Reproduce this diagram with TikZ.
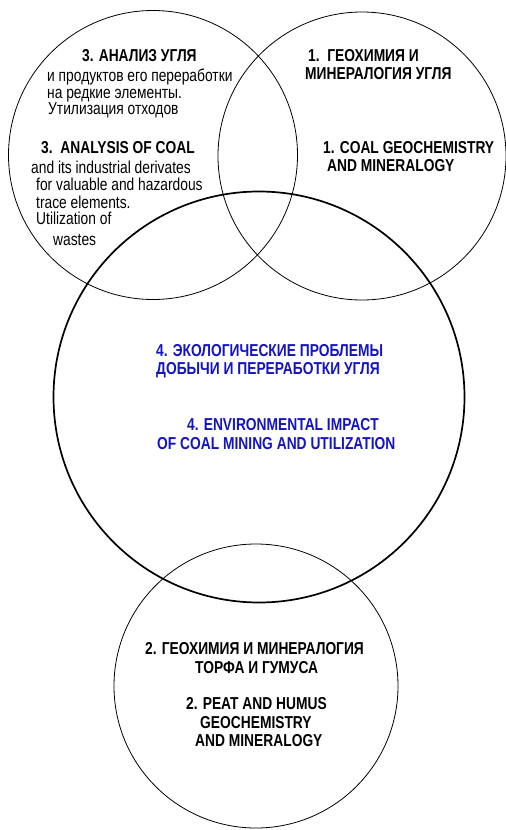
\documentclass[tikz,border=0pt]{standalone}
\usepackage{fontspec}
\usepackage{graphicx}
\setmainfont{Liberation Sans}
\definecolor{txtblue}{RGB}{20,20,195}
\newcommand{\tall}[1]{\scalebox{1}[1.25]{#1}}
\begin{document}
\begin{tikzpicture}[x=1pt,y=-1pt,
  ring/.style={circle,draw=black,line width=0.8pt,inner sep=0pt},
  bigring/.style={circle,draw=black,line width=1.7pt,inner sep=0pt},
  lbl/.style={anchor=west,inner sep=0pt,text height=12.4pt,text depth=0pt,font=\fontsize{13.8}{16}\selectfont\bfseries},
  reg/.style={anchor=west,inner sep=0pt,text height=12.4pt,text depth=0pt,font=\fontsize{13.8}{16}\selectfont},
  blu/.style={lbl,text=txtblue}]
\useasboundingbox[fill=white] (0,0) rectangle (506,830);
% circles
\node[ring,minimum size=289pt] (c3) at (153,155) {};
\node[ring,minimum size=288pt] (c1) at (362,156) {};
\node[bigring,minimum size=411pt] (c4) at (259,397) {};
\node[ring,minimum size=284pt] (c2) at (256,686) {};
% circle 3 texts
\node[lbl] (t3a) at (82,55) {\tall{3. АНАЛИЗ УГЛЯ}};
\node[reg] (t3b) at (47,75) {\tall{и продуктов его переработки}};
\node[reg] (t3c) at (47,92) {\tall{на редкие элементы.}};
\node[reg] (t3d) at (48,108) {\tall{Утилизация отходов}};
\node[lbl] (t3e) at (41,147) {\tall{3.\ \ ANALYSIS OF COAL}};
\node[reg] (t3f) at (31,167) {\tall{and its industrial derivates}};
\node[reg] (t3g) at (36,184) {\tall{for valuable and hazardous}};
\node[reg] (t3h) at (36,202) {\tall{trace elements.}};
\node[reg] (t3i) at (36,218) {\tall{Utilization of}};
\node[reg] (t3j) at (53,239) {\tall{wastes}};
% circle 1 texts
\node[lbl] (t1a) at (308,55) {\tall{1.\ \ ГЕОХИМИЯ И}};
\node[lbl] (t1b) at (305,73) {\tall{МИНЕРАЛОГИЯ УГЛЯ}};
\node[lbl] (t1c) at (323,147) {\tall{1. COAL GEOCHEMISTRY}};
\node[lbl] (t1d) at (327,165) {\tall{AND MINERALOGY}};
% circle 4 texts
\node[blu] (t4a) at (156,350) {\tall{4. ЭКОЛОГИЧЕСКИЕ ПРОБЛЕМЫ}};
\node[blu] (t4b) at (156,368) {\tall{ДОБЫЧИ И ПЕРЕРАБОТКИ УГЛЯ}};
\node[blu] (t4c) at (187,424) {\tall{4. ENVIRONMENTAL IMPACT}};
\node[blu] (t4d) at (157,443) {\tall{OF COAL MINING AND UTILIZATION}};
% circle 2 texts
\node[lbl] (t2a) at (145,648) {\tall{2. ГЕОХИМИЯ И МИНЕРАЛОГИЯ}};
\node[lbl] (t2b) at (195,667) {\tall{ТОРФА И ГУМУСА}};
\node[lbl] (t2c) at (186,703) {\tall{2. PEAT AND HUMUS}};
\node[lbl] (t2d) at (200,722) {\tall{GEOCHEMISTRY}};
\node[lbl] (t2e) at (195,740) {\tall{AND MINERALOGY}};
\end{tikzpicture}
\end{document}
